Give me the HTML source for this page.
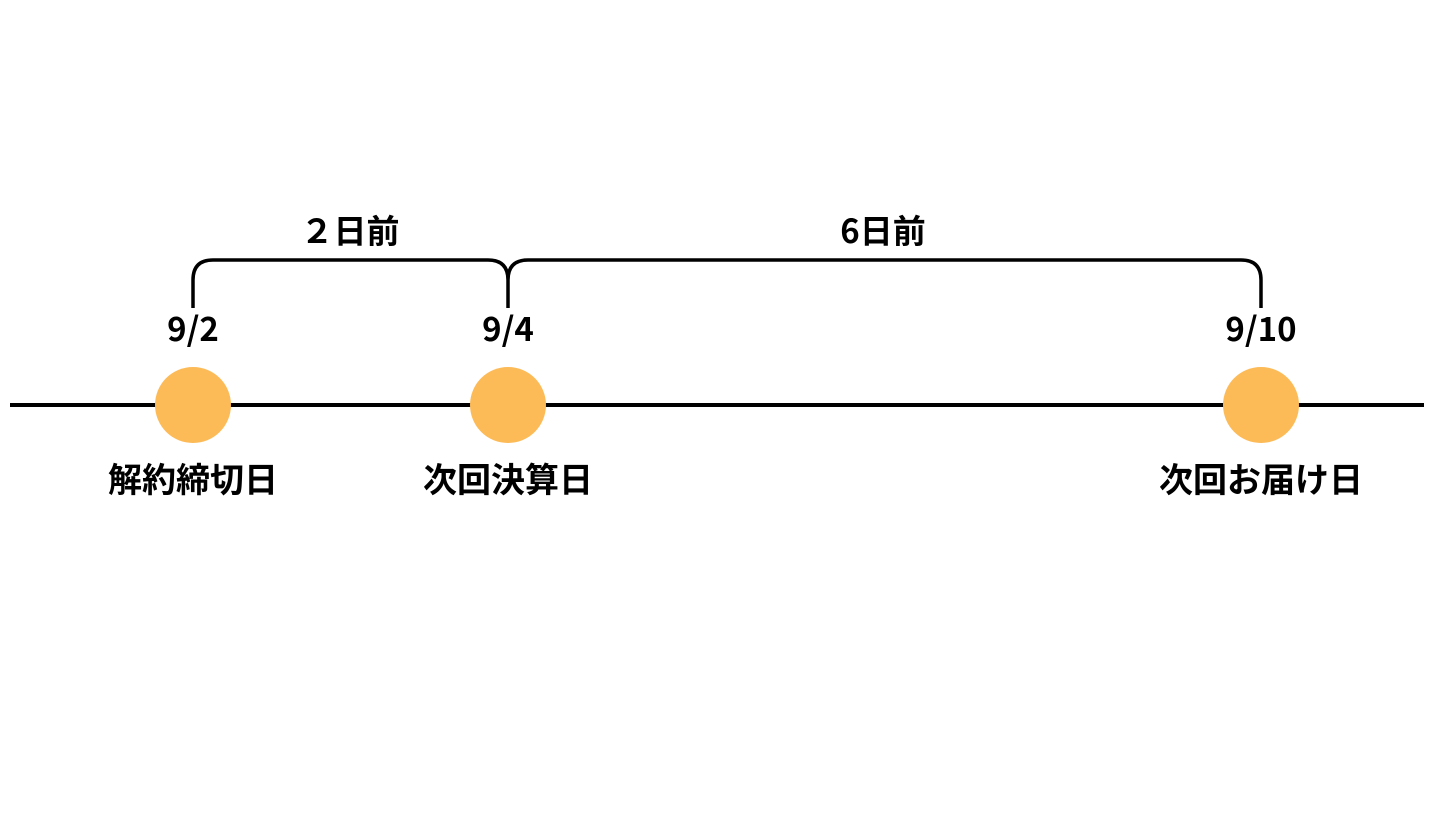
<!DOCTYPE html>
<html><head><meta charset="utf-8"><style>
body{margin:0;width:1440px;height:810px;background:#fff;overflow:hidden}
svg text{font-family:"Noto Sans CJK JP","Liberation Sans",sans-serif;font-weight:bold;fill:#000;text-anchor:middle}
</style></head><body>
<svg width="1440" height="810" viewBox="0 0 1440 810">
<line x1="10" y1="405" x2="1424" y2="405" stroke="#000" stroke-width="4"/>
<path d="M193 308 V280 Q193 260 213 260 H488 Q508 260 508 280 V308 M508 280 Q508 260 528 260 H1241 Q1261 260 1261 280 V308" fill="none" stroke="#000" stroke-width="3.5"/>
<circle cx="193" cy="405" r="38" fill="#FDBB58"/>
<circle cx="508" cy="405" r="38" fill="#FDBB58"/>
<circle cx="1261" cy="405" r="38" fill="#FDBB58"/>
<text x="350" y="243" font-size="33">２日前</text>
<text x="883" y="243" font-size="33">6日前</text>
<text x="193" y="341" font-size="33">9/2</text>
<text x="508" y="341" font-size="33">9/4</text>
<text x="1261" y="341" font-size="33">9/10</text>
<text x="193" y="492" font-size="34">解約締切日</text>
<text x="508" y="492" font-size="34">次回決算日</text>
<text x="1261" y="492" font-size="34">次回お届け日</text>
</svg>
</body></html>
